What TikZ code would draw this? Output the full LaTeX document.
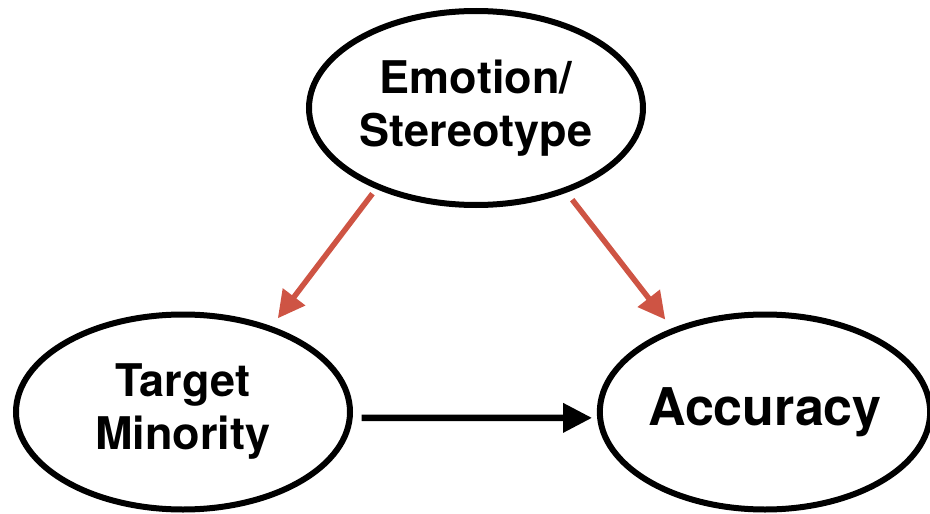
\documentclass[tikz,border=0pt]{standalone}
\usepackage{fontspec}
\setmainfont{TeX Gyre Heros}
\usetikzlibrary{shapes.geometric,arrows.meta}
\definecolor{linkred}{RGB}{206,84,68}
\begin{document}
\begin{tikzpicture}[x=1pt,y=-1pt]
        % Styles
        \tikzstyle{bubble}=[ellipse,draw=black,line width=6pt,fill=white,inner sep=0pt,align=center,font=\fontsize{45}{53}\selectfont\bfseries]
        \tikzstyle{effect}=[draw=linkred,line width=5.5pt,-{Triangle[length=27pt,width=27pt]}]
        \tikzstyle{direct}=[draw=black,line width=6.5pt,-{Triangle[length=29pt,width=28pt]}]
        \useasboundingbox (0,0) rectangle (930,514);
        %the variables
        \node[bubble,minimum width=334pt,minimum height=194pt] (emo) at (476,108) {Emotion/\\Stereotype};
        \node[bubble,minimum width=334pt,minimum height=195pt] (tgt) at (183,412) {Target\\Minority};
        \node[bubble,minimum width=324pt,minimum height=195pt,font=\fontsize{52}{60}\selectfont\bfseries] (acc) at (765,412) {Accuracy};
        %paths
        \draw[effect,shorten <=6pt,shorten >=10pt] (emo.219) -- (tgt.44);
        \draw[effect,shorten <=9pt,shorten >=11pt] (emo.317) -- (acc.138);
        \draw[direct,shorten <=9pt,shorten >=5pt] (tgt.-2.5) -- (acc.182.5);
    \end{tikzpicture}
\end{document}
